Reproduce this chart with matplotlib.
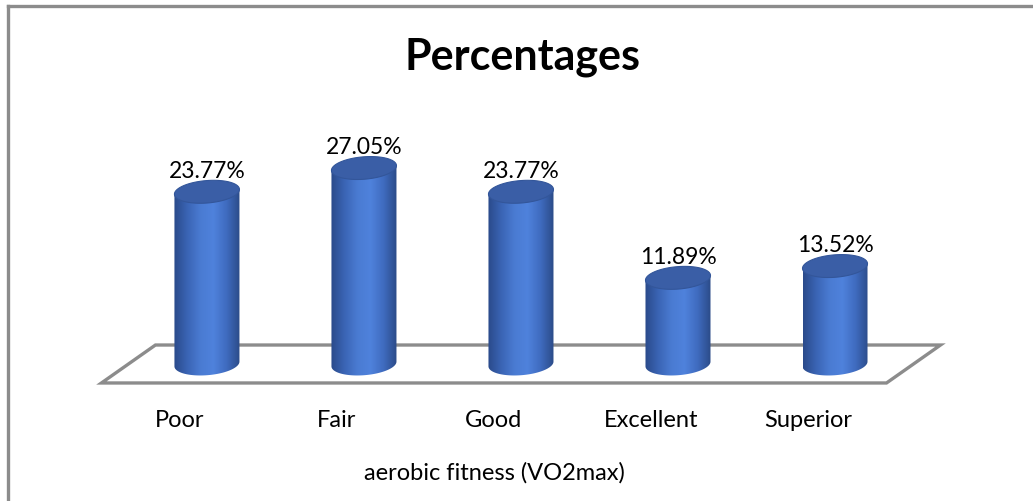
import matplotlib
matplotlib.use("Agg")
import matplotlib.pyplot as plt
import numpy as np
from matplotlib.path import Path
from matplotlib.patches import PathPatch, Polygon
from matplotlib.colors import LinearSegmentedColormap

plt.rcParams['font.family'] = ['Lato', 'DejaVu Sans']

categories = ["Poor", "Fair", "Good", "Excellent", "Superior"]
percentages = [23.77, 27.05, 23.77, 11.89, 13.52]
title = "Percentages"
xlabel = "aerobic fitness (VO2max)"

# geometry in data units (x: category index, y: percent)
bar_half = 0.207      # cylinder radius along x
ell_h = 1.55          # half height of the ellipse caps
tilt = 0.6            # shear of caps (right side higher)
depth_dx, depth_dy = 0.172, 2.62

body_cmap = LinearSegmentedColormap.from_list(
    "cyl", ["#2a4a8a", "#3a64b4", "#4a7bd2", "#4f82dc", "#3f6bbf", "#2b4b88"])


def cap_points(cx, cy, n=120):
    t = np.linspace(0, 2 * np.pi, n)
    x = cx + bar_half * np.cos(t)
    y = cy + ell_h * np.sin(t) + tilt * (x - cx) * ell_h / bar_half * 0.35
    return x, y


fig = plt.figure(figsize=(10.33, 5.02), dpi=100)
ax = fig.add_axes([0, 0, 1, 1])
ax.set_xlim(-1.318, 5.261)
ax.set_ylim(-18.91, 50.38)
ax.axis('off')

# floor
x0, x1 = -0.5, len(categories) - 0.5
floor = [(x0 - depth_dx, -depth_dy), (x0 + depth_dx, depth_dy),
         (x1 + depth_dx, depth_dy), (x1 - depth_dx, -depth_dy)]
ax.add_patch(Polygon(floor, closed=True, fill=False, edgecolor="#8c8c8c",
                     linewidth=2.4, zorder=1))

grad = np.linspace(0, 1, 256).reshape(1, -1)
for i, v in enumerate(percentages):
    # body: lower half of base ellipse + straight sides up to top
    t = np.linspace(np.pi, 2 * np.pi, 80)
    bx = i + bar_half * np.cos(t)
    by = 0 + ell_h * np.sin(t) + tilt * (bx - i) * ell_h / bar_half * 0.35
    tx, ty = cap_points(i, v)
    verts = list(zip(bx, by)) + [(i + bar_half, ty[0]), (i - bar_half, ty[len(ty) // 2])]
    verts.append(verts[0])
    path = Path(verts, closed=True)
    patch = PathPatch(path, facecolor="none", edgecolor="none")
    ax.add_patch(patch)
    im = ax.imshow(grad, cmap=body_cmap, aspect='auto', zorder=3,
                   extent=(i - bar_half, i + bar_half, -ell_h * 2, v + ell_h * 2))
    im.set_clip_path(patch)
    # top cap
    ax.add_patch(Polygon(np.column_stack([tx, ty]), closed=True,
                         facecolor="#3a5ea6", edgecolor="#33569a",
                         linewidth=0.8, zorder=4))
    ax.text(i, v + 3.0, f"{v:.2f}%", ha='center', va='center',
            fontsize=16.5, color="#000000", zorder=5)
    ax.text(i - depth_dx, -7.6, categories[i], ha='center', va='center',
            fontsize=17, color="#000000")

ax.text((x0 + x1) / 2 - depth_dx, -14.9, xlabel, ha='center', va='center',
        fontsize=17, color="#000000")

fig.text(522 / 1033, 1 - 57 / 502, title, ha='center', va='center',
         fontsize=31, fontweight='bold')

# chart border (left and top edges visible)
fig.add_artist(plt.Line2D([8 / 1033, 8 / 1033], [0, 1 - 7 / 502],
                          color="#8c8c8c", linewidth=2.4))
fig.add_artist(plt.Line2D([8 / 1033, 1], [1 - 7 / 502, 1 - 7 / 502],
                          color="#8c8c8c", linewidth=2.4))

fig.savefig("out.png", dpi=100)
